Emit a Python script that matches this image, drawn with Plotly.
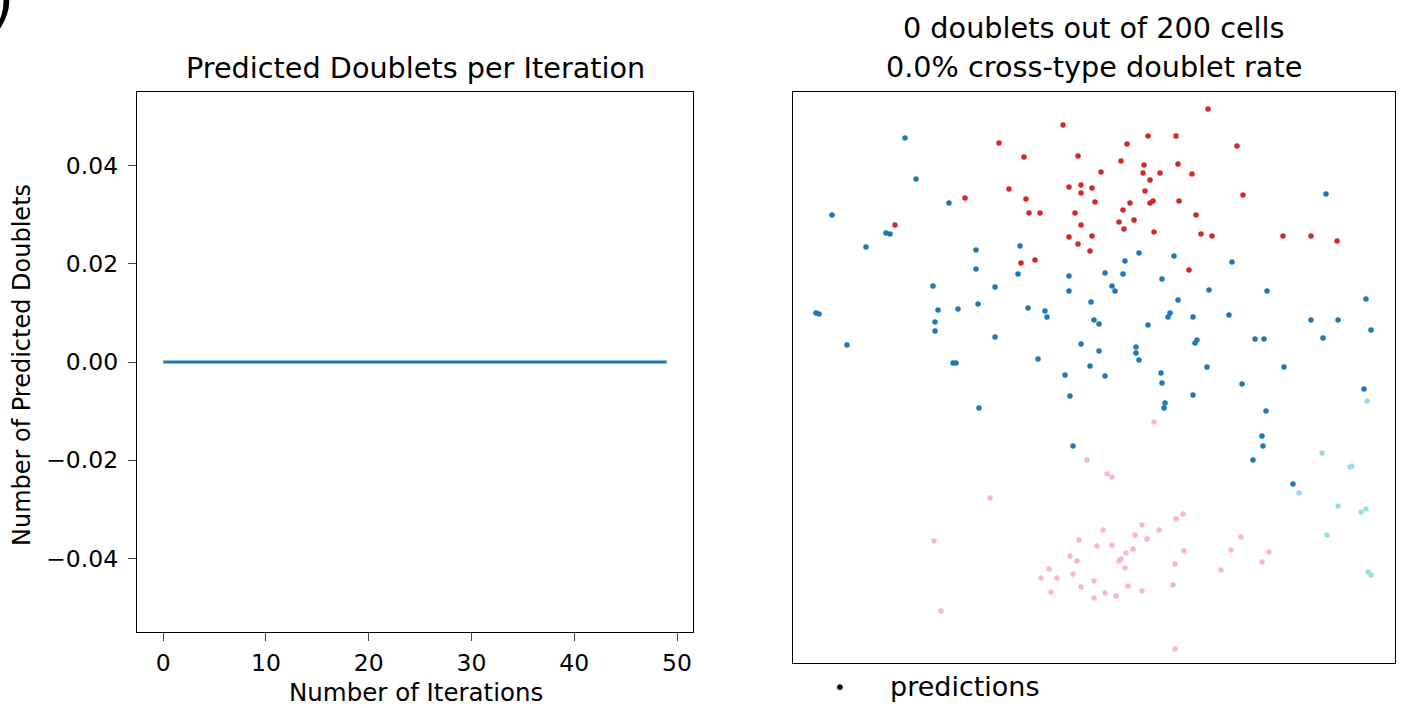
import plotly.graph_objects as go

W, H = 1405, 708

# ---------------- data ----------------
iterations = list(range(50))
predicted_doublets = [0] * 50

x_ticks = [0, 10, 20, 30, 40, 50]
y_ticks = [-0.04, -0.02, 0.0, 0.02, 0.04]

# embedding coordinates (arbitrary units) per cell type
red_x = [172, 102, 270, 206, 355, 383, 334, 231, 285, 328, 351, 385, 308, 350, 367, 399, 357, 216,
         276, 288, 299, 288, 352, 233, 302, 337, 357, 360, 386, 236, 247, 282, 330, 326, 341, 288,
         331, 361, 276, 299, 285, 297, 228, 242, 396, 415, 444, 450, 403, 408, 419, 490, 518, 544]
red_y = [465, 438, 538, 520, 527, 527, 519, 506, 507, 502, 498, 499, 491, 490, 490, 489, 483, 474,
         476, 478, 475, 470, 472, 464, 461, 460, 460, 462, 462, 450, 450, 450, 453, 441, 443, 438,
         434, 431, 426, 427, 419, 412, 400, 403, 393, 554, 517, 468, 448, 429, 427, 427, 427, 422]

blue_x = [112, 123, 156, 39, 93, 97, 73, 183, 183, 227, 346, 381, 332, 225, 276, 312, 330, 369,
          533, 439, 140, 185, 23, 26, 145, 165, 142, 142, 54, 160, 163, 186, 202, 276, 319, 322,
          385, 235, 298, 252, 254, 301, 306, 377, 375, 400, 355, 202, 288, 306, 343, 343, 346, 245,
          297, 272, 312, 368, 369, 400, 277, 372, 371, 280, 416, 474, 573, 436, 518, 545, 578, 404,
          402, 462, 471, 530, 414, 491, 449, 571, 473, 469, 470, 460, 500]
blue_y = [525, 484, 460, 448, 430, 429, 416, 413, 394, 417, 410, 407, 402, 389, 387, 390, 389, 384,
          469, 401, 377, 359, 350, 349, 353, 354, 341, 332, 318, 300, 300, 255, 376, 372, 377, 372,
          363, 355, 361, 352, 346, 343, 339, 350, 346, 346, 338, 326, 319, 312, 316, 310, 303, 304,
          297, 288, 287, 290, 280, 268, 267, 260, 255, 217, 373, 372, 364, 348, 343, 343, 333, 323,
          320, 324, 324, 325, 296, 296, 279, 274, 252, 227, 217, 203, 179]

cyan_x = [574, 529, 557, 559, 506, 545, 568, 573, 534, 575, 578]
cyan_y = [262, 210, 196, 197, 170, 157, 151, 154, 128, 91, 88]

pink_x = [361, 294, 314, 319, 197, 141, 148, 390, 383, 349, 310, 366, 342, 354, 286, 304, 319, 340,
          391, 333, 277, 328, 326, 284, 382, 256, 332, 280, 248, 264, 301, 380, 335, 288, 258, 349,
          312, 323, 301, 382, 448, 438, 476, 469, 428]
pink_y = [241, 203, 189, 186, 165, 122, 52, 149, 144, 138, 133, 133, 128, 124, 123, 117, 118, 114,
          112, 110, 107, 104, 102, 102, 99, 94, 95, 89, 85, 85, 82, 78, 77, 76, 71, 72,
          70, 67, 65, 14, 126, 113, 111, 101, 93]

n_doublets = 0
n_cells = 200
rate = 0.0

# ---------------- figure ----------------
def px_x(p):
    return p / W

def px_y(p):
    return 1 - p / H

FONT = "DejaVu Sans"
fig = go.Figure()

fig.add_trace(go.Scatter(x=iterations, y=predicted_doublets, mode="lines",
                         line=dict(color="#1f77b4", width=3), xaxis="x", yaxis="y",
                         showlegend=False))

for xs, ys, col in [(blue_x, blue_y, "#1f77b4"), (red_x, red_y, "#d62728"),
                    (pink_x, pink_y, "#f7b6d2"), (cyan_x, cyan_y, "#9edae5")]:
    fig.add_trace(go.Scatter(x=xs, y=ys, mode="markers",
                             marker=dict(color=col, size=5.5, line=dict(width=0)),
                             xaxis="x2", yaxis="y2", showlegend=False))

axis_common = dict(showline=True, linecolor="black", linewidth=1.3, mirror=True,
                   showgrid=False, zeroline=False)

fig.update_layout(
    width=W, height=H,
    margin=dict(l=0, r=0, t=0, b=0),
    paper_bgcolor="white", plot_bgcolor="white",
    font=dict(family=FONT, color="black"),
    xaxis=dict(domain=[px_x(137), px_x(693)], range=[-2.55, 51.55],
               tickvals=x_ticks, ticks="outside", ticklen=8, tickwidth=1.3,
               ticklabelstandoff=2,
               tickfont=dict(size=23.5, family=FONT), anchor="y", **axis_common),
    yaxis=dict(domain=[px_y(632), px_y(92)], range=[-0.055, 0.055],
               tickvals=y_ticks, tickformat=".2f", ticks="outside", ticklen=8, tickwidth=1.3,
               ticklabelstandoff=5,
               tickfont=dict(size=23.5, family=FONT), anchor="x", **axis_common),
    xaxis2=dict(domain=[px_x(793), px_x(1395)], range=[0, 602], showticklabels=False,
                ticks="", anchor="y2", **axis_common),
    yaxis2=dict(domain=[px_y(663), px_y(92)], range=[0, 571], showticklabels=False,
                ticks="", anchor="x2", **axis_common),
)

ann = [
    dict(text="Predicted Doublets per Iteration", x=px_x(416), y=px_y(68), size=28.7),
    dict(text=f"{n_doublets} doublets out of {n_cells} cells", x=px_x(1094), y=px_y(28), size=28.7),
    dict(text=f"{rate:.1f}% cross-type doublet rate", x=px_x(1094), y=px_y(67), size=28.7),
    dict(text="Number of Iterations", x=px_x(416), y=px_y(692), size=24.5),
    dict(text="predictions", x=px_x(965), y=px_y(686), size=27),
    dict(text="•", x=px_x(840), y=px_y(687), size=20),
]
for a in ann:
    fig.add_annotation(text=a["text"], x=a["x"], y=a["y"], xref="paper", yref="paper",
                       showarrow=False, xanchor="center", yanchor="middle",
                       font=dict(size=a["size"], family=FONT, color="black"))

fig.add_annotation(text="Number of Predicted Doublets", x=px_x(22), y=px_y(365),
                   xref="paper", yref="paper", showarrow=False, textangle=-90,
                   xanchor="center", yanchor="middle",
                   font=dict(size=24, family=FONT, color="black"))

fig.add_annotation(text=")", x=px_x(16), y=px_y(-1), xref="paper", yref="paper",
                   showarrow=False, xanchor="right", yanchor="middle",
                   font=dict(size=60, family=FONT, color="black"))

fig.write_html("out.html", config={"displayModeBar": False},
               post_script="document.body.style.margin='0';")
